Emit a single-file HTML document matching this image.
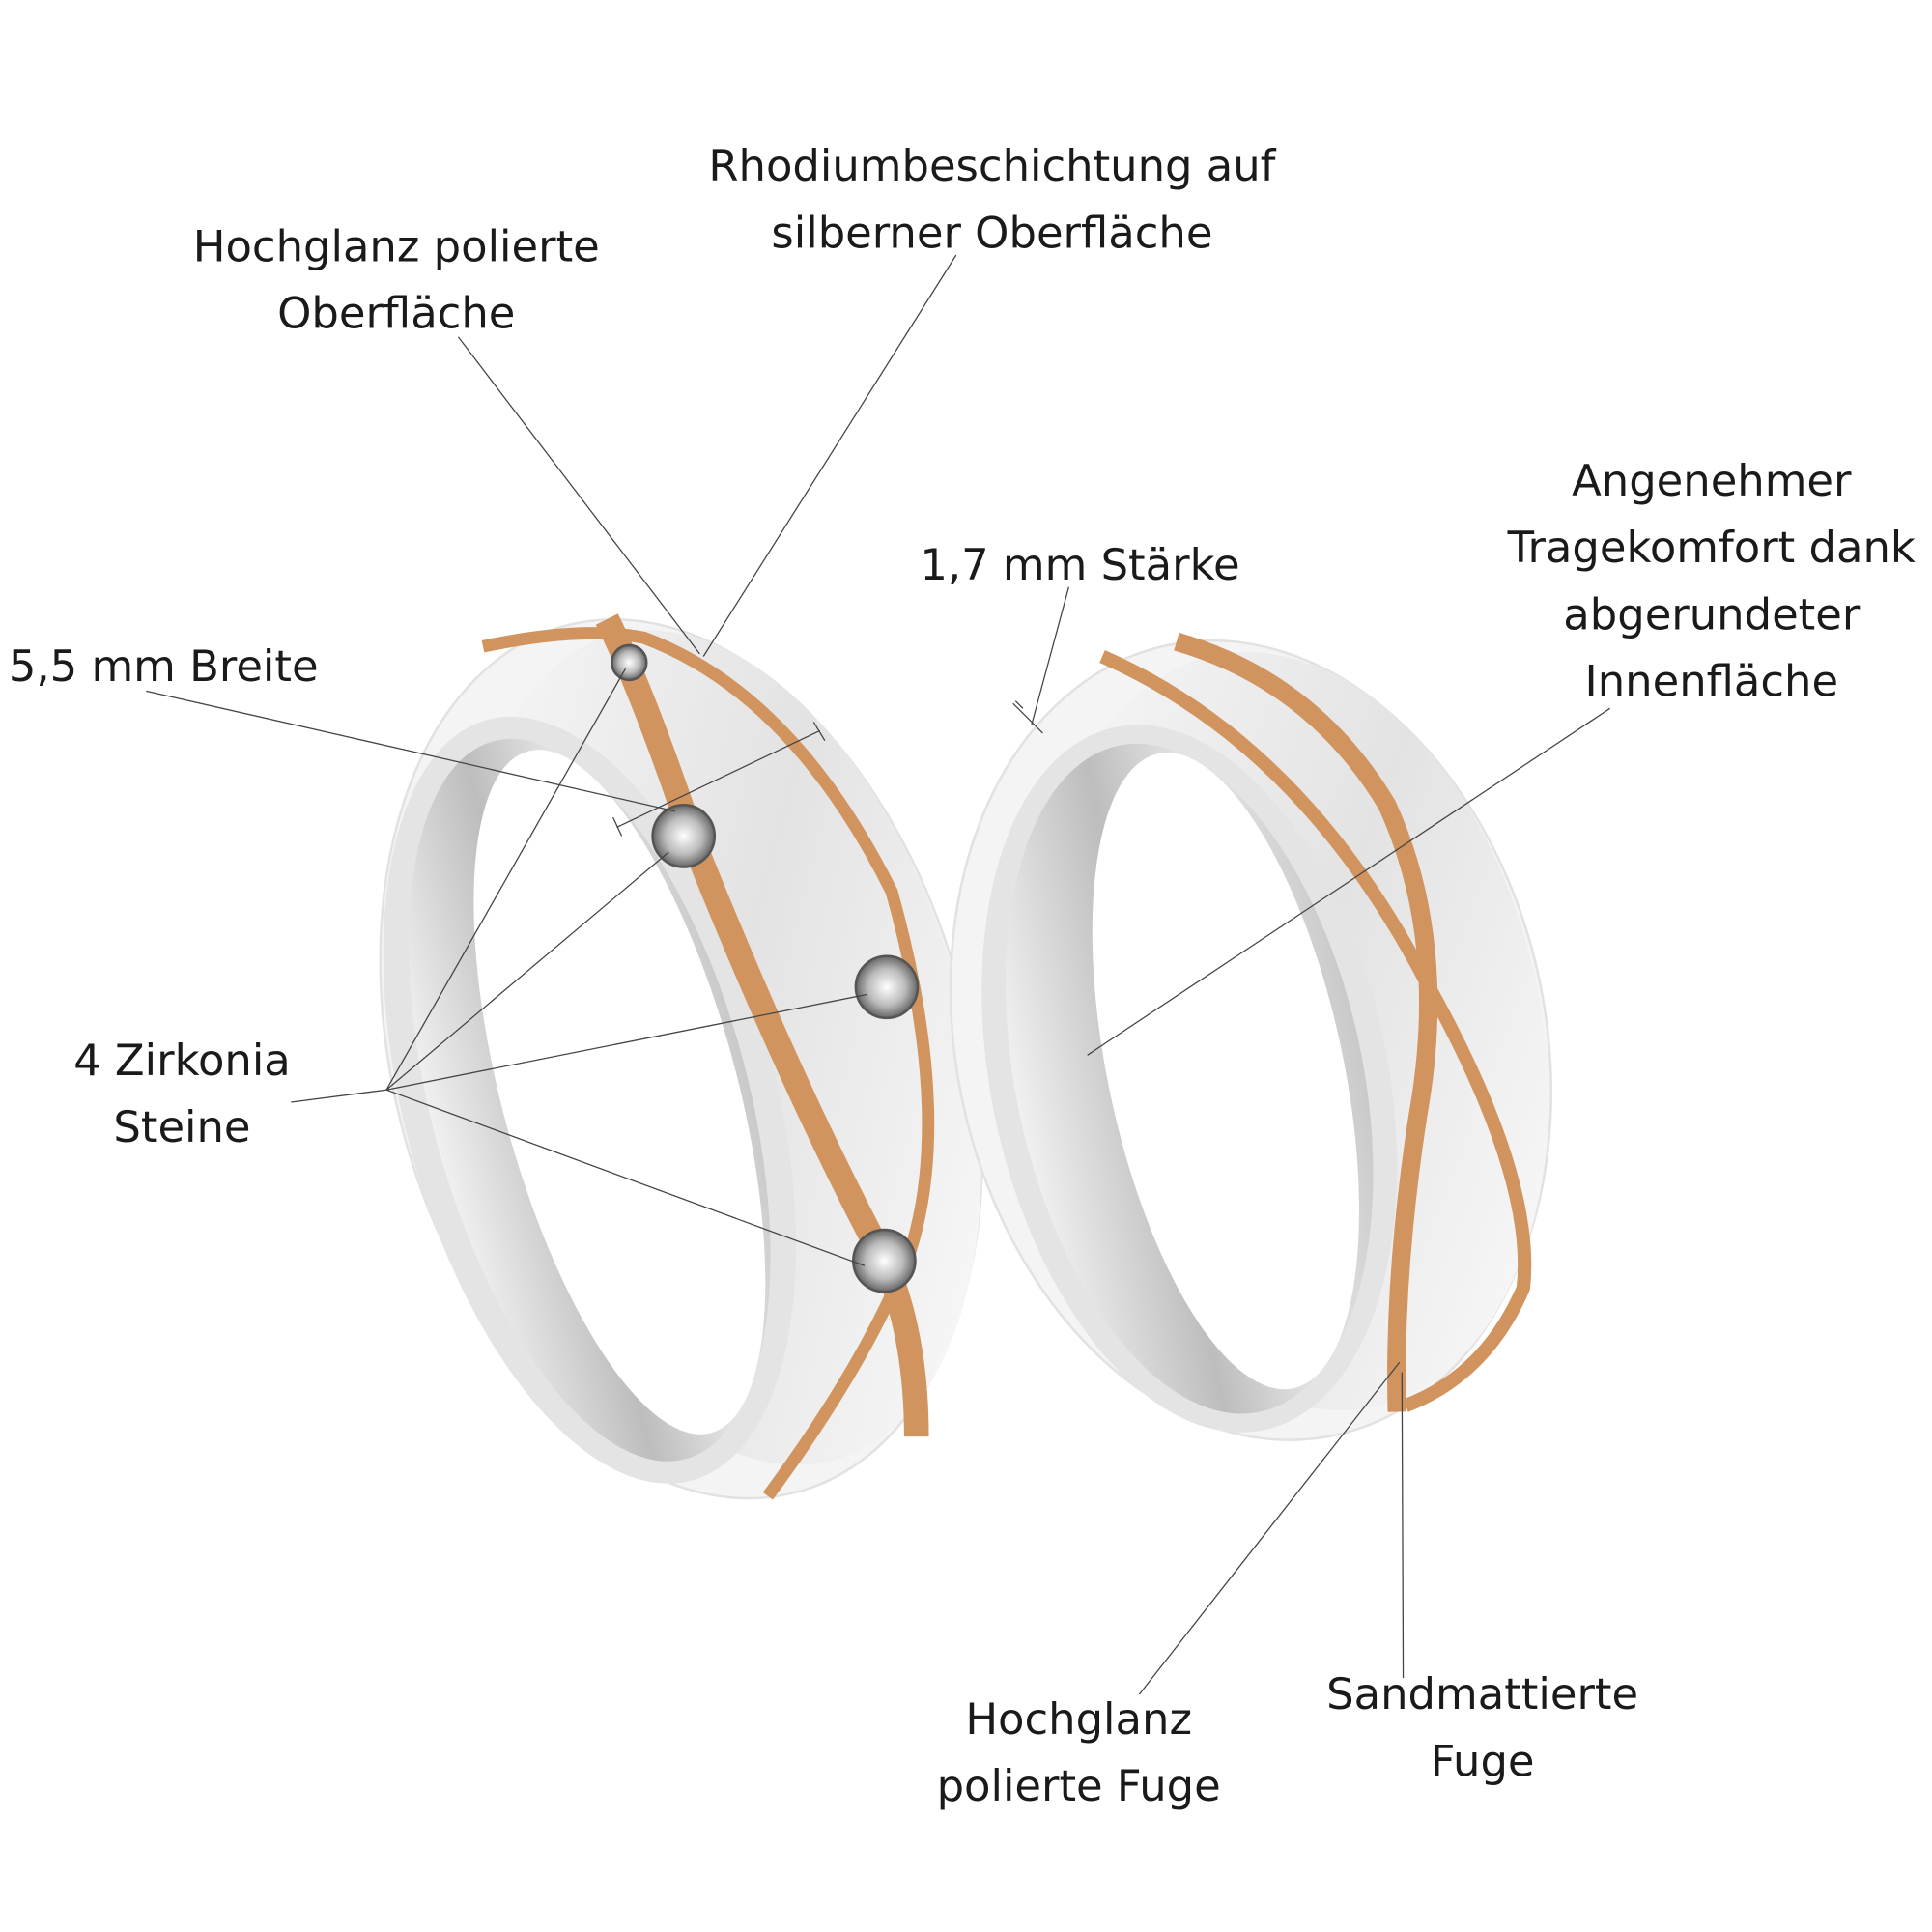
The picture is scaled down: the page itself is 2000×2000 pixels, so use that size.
<!DOCTYPE html>
<html><head><meta charset="utf-8"><style>
html,body{margin:0;padding:0;background:#fff}
svg{display:block}
text{font-family:"DejaVu Sans","Liberation Sans",sans-serif;font-size:35px;fill:#1a1a1a}
</style></head><body>
<svg width="2000" height="2000" viewBox="0 0 1560 1560" xmlns="http://www.w3.org/2000/svg">
<defs>
<linearGradient id="silver" x1="0" y1="0" x2="1" y2="1">
<stop offset="0" stop-color="#fafafa"/><stop offset="0.5" stop-color="#e3e3e3"/><stop offset="1" stop-color="#fdfdfd"/></linearGradient>
<linearGradient id="inner" x1="0" y1="0" x2="1" y2="0">
<stop offset="0" stop-color="#f0f0f0"/><stop offset="0.4" stop-color="#bdbdbd"/><stop offset="0.7" stop-color="#e8e8e8"/><stop offset="1" stop-color="#c9c9c9"/></linearGradient>
<radialGradient id="gem"><stop offset="0" stop-color="#fff"/><stop offset="0.6" stop-color="#bbb"/><stop offset="1" stop-color="#666"/></radialGradient>
</defs>
<!-- left ring -->
<g transform="rotate(-15 550 855)">
<ellipse cx="550" cy="855" rx="232" ry="362" fill="#f4f4f4" stroke="#e2e2e2" stroke-width="2"/>
<ellipse cx="585" cy="855" rx="195" ry="345" fill="url(#silver)"/>
<ellipse cx="470" cy="868" rx="150" ry="318" fill="#e4e4e4"/>
<ellipse cx="470" cy="868" rx="128" ry="300" fill="url(#inner)"/>
<ellipse cx="495" cy="868" rx="95" ry="285" fill="#fff"/>
</g>
<path d="M390 522 Q470 505 520 515 Q640 560 720 720 Q770 900 735 1010 Q700 1100 620 1208" fill="none" stroke="#d2945e" stroke-width="10"/>
<path d="M490 500 Q520 560 560 680 Q640 880 715 1020 Q740 1080 740 1160" fill="none" stroke="#d2945e" stroke-width="20"/>
<g fill="url(#gem)" stroke="#555" stroke-width="2">
<circle cx="508" cy="535" r="14"/><circle cx="552" cy="675" r="25"/><circle cx="716" cy="797" r="25"/><circle cx="714" cy="1018" r="25"/></g>
<!-- right ring -->
<g transform="rotate(-12 1010 840)">
<ellipse cx="1010" cy="840" rx="238" ry="326" fill="#f4f4f4" stroke="#e2e2e2" stroke-width="2"/>
<ellipse cx="1045" cy="840" rx="200" ry="310" fill="url(#silver)"/>
<ellipse cx="955" cy="860" rx="160" ry="290" fill="#e4e4e4"/>
<ellipse cx="955" cy="860" rx="140" ry="275" fill="url(#inner)"/>
<ellipse cx="985" cy="860" rx="95" ry="262" fill="#fff"/>
</g>
<path d="M890 530 Q1050 600 1150 790 Q1240 950 1230 1040 Q1200 1110 1135 1135" fill="none" stroke="#d2945e" stroke-width="11"/>
<path d="M950 518 Q1060 550 1120 650 Q1170 760 1145 900 Q1125 1030 1128 1140" fill="none" stroke="#d2945e" stroke-width="15"/>
<!-- leader lines -->
<g stroke="#444" stroke-width="1" fill="none">
<line x1="370" y1="272" x2="565" y2="528"/>
<line x1="772" y1="206" x2="568" y2="530"/>
<line x1="118" y1="558" x2="545" y2="655"/>
<line x1="498" y1="668" x2="662" y2="590"/><line x1="495" y1="660" x2="502" y2="675"/><line x1="657" y1="583" x2="666" y2="598"/>
<line x1="235" y1="890" x2="312" y2="880"/>
<line x1="312" y1="880" x2="505" y2="540"/>
<line x1="312" y1="880" x2="540" y2="688"/>
<line x1="312" y1="880" x2="700" y2="803"/>
<line x1="312" y1="880" x2="698" y2="1022"/>
<line x1="863" y1="474" x2="833" y2="585"/><line x1="818" y1="568" x2="842" y2="592"/><line x1="820" y1="566" x2="826" y2="572"/>
<line x1="1300" y1="572" x2="878" y2="852"/>
<line x1="920" y1="1368" x2="1130" y2="1100"/>
<line x1="1133" y1="1355" x2="1132" y2="1108"/>
</g>
<!-- labels -->
<g text-anchor="middle">
<text x="801" y="146">Rhodiumbeschichtung auf</text>
<text x="801" y="200">silberner Oberfläche</text>
<text x="320" y="211">Hochglanz polierte</text>
<text x="320" y="265">Oberfläche</text>
<text x="132" y="550">5,5 mm Breite</text>
<text x="872" y="468">1,7 mm Stärke</text>
<text x="1382" y="400">Angenehmer</text>
<text x="1382" y="454">Tragekomfort dank</text>
<text x="1382" y="508">abgerundeter</text>
<text x="1382" y="562">Innenfläche</text>
<text x="147" y="868">4 Zirkonia</text>
<text x="147" y="922">Steine</text>
<text x="871" y="1400">Hochglanz</text>
<text x="871" y="1454">polierte Fuge</text>
<text x="1197" y="1380">Sandmattierte</text>
<text x="1197" y="1434">Fuge</text>
</g>
</svg>
</body></html>
